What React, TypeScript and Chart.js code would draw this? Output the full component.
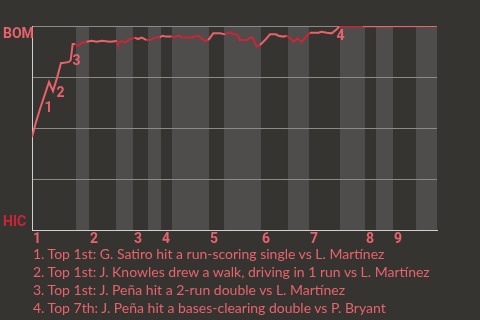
import React, { useEffect, useRef } from "react";
import { Chart, registerables } from "chart.js";

Chart.register(...registerables);

// Game progress (plays) on x, BOM win probability (%) on y
const halfInningEdges = [0, 11.95, 15.48, 22.81, 27.43, 31.51, 35.04, 38.02, 48.07, 52.15, 62.2, 69.53, 75.23, 83.65, 90.44, 93.43, 98.05, 104.3, 110];
const inningLabels = ["1", "2", "3", "4", "5", "6", "7", "8", "9"];

const playX = [
  0, 1.09, 2.17, 3.26, 4.62, 5.7, 6.79, 7.88, 8.42, 10.05, 10.51, 11.05, 11.68, 12.41, 13.5, 14.86, 16.21, 17.57, 18.93, 21.19,
  23.09, 23.28, 24.36, 25.26, 26.62, 27.98, 28.79, 29.79, 31.15, 32.05, 33.41, 34.76, 35.5, 36.39, 37.94, 38.57, 39.74, 40.66,
  43.38, 44.27, 45.17, 46.09, 46.99, 47.88, 49.24, 51.06, 52.42, 53.78, 54.67, 55.6, 56.49, 58.31, 59.21, 59.94, 61.03, 61.93,
  63.29, 64.65, 66.28, 66.9, 68.26, 69.18, 70.08, 71.16, 72.06, 73.25, 74.61, 75.51, 76.4, 77.76, 78.69, 80.05, 81.4, 82.76,
  83.47, 89.55, 89.98, 110,
];
const bomWinPct = [
  45.6, 52.9, 59.3, 65.2, 72.5, 68.1, 74.5, 81.9, 81.9, 82.4, 83.3, 91.2, 91.2, 90.2, 91.8, 92.3, 92.8, 92.3, 92.8, 92.3,
  92.6, 91.5, 92.6, 92.0, 93.6, 94.3, 93.6, 94.3, 93.1, 93.1, 94.3, 94.5, 95.2, 94.8, 94.8, 94.5, 95.2, 94.5,
  94.3, 94.8, 95.2, 94.0, 92.6, 93.1, 96.4, 96.4, 95.9, 96.9, 95.9, 95.9, 93.1, 93.1, 94.3, 94.3, 89.9, 90.7,
  93.1, 95.9, 95.9, 95.2, 94.8, 95.2, 94.0, 92.3, 94.0, 92.3, 95.1, 96.7, 96.7, 96.7, 97.2, 96.7, 96.4, 98.4,
  99.7, 99.7, 99.9, 100,
];

const eventNumbers = ["1", "2", "3", "4"];
const eventX = [4.48, 7.74, 12.09, 83.79];
const eventNotes = [
  "1. Top 1st: G. Satiro hit a run-scoring single vs L. Martínez",
  "2. Top 1st: J. Knowles drew a walk, driving in 1 run vs L. Martínez",
  "3. Top 1st: J. Peña hit a 2-run double vs L. Martínez",
  "4. Top 7th: J. Peña hit a bases-clearing double vs P. Bryant",
];
const teamTop = "BOM";
const teamBottom = "HIC";

// styles
const BG = "#363431";
const BAND = "#4e4d4b";
const PINK = "#e8636b";
const RED = "#cf2338";
const FONT = "Lato, 'Open Sans', sans-serif";
const BOLD_FONT = "Roboto, 'Noto Sans', sans-serif";
const eventLabelOffsetY = [25, 29, 16, 10];

function halfIndex(x: number) {
  for (let k = 0; k < halfInningEdges.length - 1; k++) {
    if (x >= halfInningEdges[k] && x < halfInningEdges[k + 1]) return k;
  }
  return halfInningEdges.length - 2;
}

function lineYAt(x: number) {
  for (let i = 0; i < playX.length - 1; i++) {
    if (x >= playX[i] && x <= playX[i + 1]) {
      const t = (x - playX[i]) / (playX[i + 1] - playX[i]);
      return bomWinPct[i] + t * (bomWinPct[i + 1] - bomWinPct[i]);
    }
  }
  return bomWinPct[bomWinPct.length - 1];
}

const decorPlugin = {
  id: "decor",
  beforeDraw(chart: any) {
    const { ctx, chartArea, scales } = chart;
    const xs = scales.x;
    ctx.save();
    ctx.fillStyle = BAND;
    for (let i = 1; i < halfInningEdges.length - 1; i += 2) {
      const x0 = xs.getPixelForValue(halfInningEdges[i]);
      const x1 = xs.getPixelForValue(halfInningEdges[i + 1]);
      ctx.fillRect(x0, chartArea.top, x1 - x0, chartArea.bottom - chartArea.top);
    }
    ctx.restore();
  },
  afterDraw(chart: any) {
    const { ctx, chartArea, scales } = chart;
    const xs = scales.x;
    const ys = scales.y;
    ctx.save();
    ctx.font = `bold 14px ${BOLD_FONT}`;
    ctx.textAlign = "left";
    ctx.textBaseline = "alphabetic";
    ctx.fillStyle = PINK;
    ctx.fillText(teamTop, 3, chartArea.top + 12);
    ctx.fillStyle = RED;
    ctx.fillText(teamBottom, 3, chartArea.bottom - 4);

    ctx.font = `bold 14px ${BOLD_FONT}`;
    ctx.fillStyle = PINK;
    ctx.textAlign = "left";
    for (let i = 0; i < inningLabels.length; i++) {
      const px = xs.getPixelForValue(halfInningEdges[i * 2]);
      ctx.fillText(inningLabels[i], px + 1, chartArea.bottom + 13);
    }

    ctx.textAlign = "center";
    ctx.textBaseline = "middle";
    for (let i = 0; i < eventNumbers.length; i++) {
      const px = xs.getPixelForValue(eventX[i]);
      const py = ys.getPixelForValue(lineYAt(eventX[i]));
      ctx.fillText(eventNumbers[i], px, py + eventLabelOffsetY[i]);
    }
    ctx.restore();
  },
};

export default function App() {
  const ref = useRef<HTMLCanvasElement>(null);
  useEffect(() => {
    document.body.style.margin = "0";
    const chart = new Chart(ref.current!, {
      type: "line",
      data: {
        datasets: [
          {
            data: playX.map((x, i) => ({ x, y: bomWinPct[i] })),
            borderWidth: 2,
            pointRadius: 0,
            tension: 0,
            fill: false,
            borderColor: PINK,
            segment: {
              borderColor: (c: any) => {
                const mid = (c.p0.parsed.x + c.p1.parsed.x) / 2;
                return halfIndex(mid) % 2 === 1 ? RED : PINK;
              },
            },
          },
        ],
      },
      options: {
        animation: false,
        responsive: false,
        devicePixelRatio: 1,
        layout: { padding: { left: 32, right: 43, top: 26, bottom: 90 } },
        plugins: { legend: { display: false }, tooltip: { enabled: false } },
        scales: {
          x: {
            type: "linear",
            min: 0,
            max: 110,
            ticks: { display: false },
            grid: { display: false, drawTicks: false },
            border: { display: true, color: "#cfcfcf", width: 1 },
          },
          y: {
            min: 0,
            max: 100,
            ticks: { display: false, stepSize: 25 },
            grid: { color: "#8a8a8a", lineWidth: 1, drawTicks: false },
            border: { display: true, color: "#cfcfcf", width: 1 },
          },
        },
      },
      plugins: [decorPlugin],
    });
    return () => chart.destroy();
  }, []);

  return (
    <div style={{ position: "fixed", left: 0, top: 0, width: 480, height: 320, background: BG, overflow: "hidden" }}>
      <canvas ref={ref} width={480} height={320} style={{ display: "block", width: 480, height: 320 }} />
      <div
        style={{
          position: "absolute",
          left: 33,
          top: 245,
          fontFamily: FONT,
          fontSize: 14,
          lineHeight: "18px",
          color: PINK,
          whiteSpace: "nowrap",
        }}
      >
        {eventNotes.map((n) => (
          <div key={n}>{n}</div>
        ))}
      </div>
    </div>
  );
}
